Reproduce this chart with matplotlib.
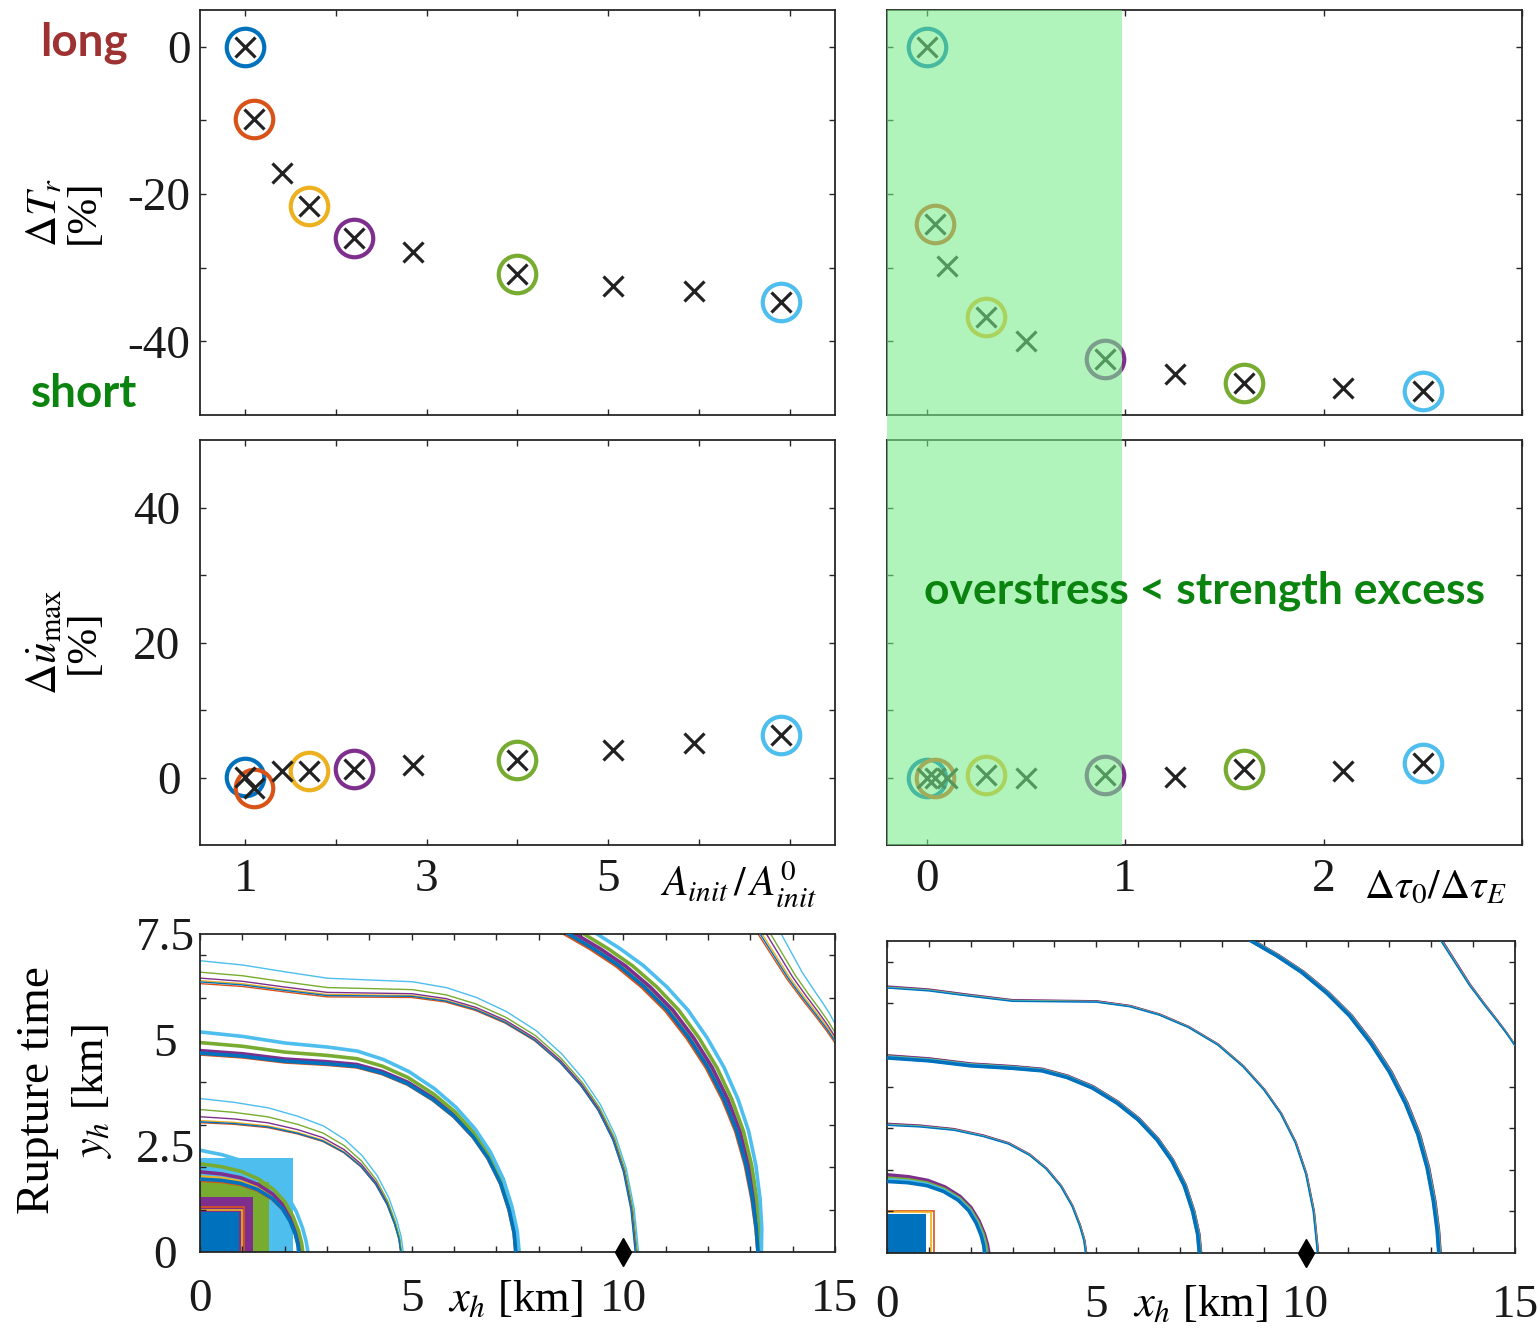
"""Rupture time sensitivity: A_init and overstress sweeps"""
import numpy as np
import matplotlib
matplotlib.use("Agg")
import matplotlib.pyplot as plt
from matplotlib.patches import Rectangle
from matplotlib import transforms

plt.rcParams['font.family'] = ['Liberation Serif', 'DejaVu Serif']
plt.rcParams['mathtext.fontset'] = 'stix'

# matlab default line colours: blue, orange, yellow, purple, green, cyan
run_colors = ['#0072BD', '#D95319', '#EDB120', '#7E2F8E', '#77AC30', '#4DBEEE']

# ---- scatter data (left: A_init / A_init^0, right: dtau0 / dtauE)
a_ratio = [1.0, 1.1, 1.4, 1.7, 2.2, 2.85, 4.0, 5.05, 5.95, 6.9]
dTr_a = [0, -9.8, -17.2, -21.6, -25.9, -27.8, -30.8, -32.5, -33.2, -34.7]
dudot_a = [0.1, -1.5, 1.0, 1.0, 1.2, 1.8, 2.6, 4.1, 5.1, 6.3]
circled_a = [0, 1, 3, 4, 6, 9]

tau_ratio = [0, 0.04, 0.1, 0.3, 0.5, 0.9, 1.25, 1.6, 2.1, 2.5]
dTr_t = [0, -24.0, -29.7, -36.7, -39.9, -42.4, -44.4, -45.6, -46.4, -46.8]
dudot_t = [0, 0, 0, 0.4, 0, 0.4, 0.1, 1.2, 0.9, 2.2]
circled_t = [0, 1, 3, 5, 7, 9]

shade_end = 0.985

# ---- rupture front contours of the reference run (km), one per level
front_x = [
    [0, 0.5, 0.95, 1.35, 1.7, 1.95, 2.13, 2.25, 2.31, 2.33],
    [0, 0.8, 1.6, 2.3, 2.9, 3.4, 3.8, 4.15, 4.42, 4.6, 4.7, 4.74],
    [0, 1.0, 2.0, 3.0, 3.7, 4.3, 4.9, 5.5, 6.0, 6.45, 6.8, 7.1, 7.3, 7.42, 7.46],
    [0, 1.0, 2.0, 3.0, 4.0, 5.0, 5.8, 6.5, 7.2, 7.9, 8.5, 9.0, 9.4, 9.75,
     10.0, 10.18, 10.28],
    [8.7, 9.3, 9.9, 10.5, 11.05, 11.55, 12.0, 12.38, 12.68, 12.9, 13.05,
     13.14, 13.18],
    [13.23, 13.55, 13.9, 14.25, 14.55, 14.8, 15.0],
]
front_y = [
    [1.72, 1.69, 1.62, 1.48, 1.27, 1.02, 0.72, 0.42, 0.18, 0],
    [3.07, 3.03, 2.95, 2.8, 2.62, 2.35, 2.02, 1.6, 1.12, 0.65, 0.3, 0],
    [4.69, 4.62, 4.5, 4.44, 4.38, 4.22, 3.97, 3.6, 3.2, 2.72, 2.22, 1.62, 1.0,
     0.45, 0],
    [6.37, 6.3, 6.17, 6.05, 6.04, 6.03, 5.92, 5.72, 5.42, 5.0, 4.48, 3.92,
     3.35, 2.65, 1.9, 1.0, 0],
    [7.5, 7.15, 6.75, 6.25, 5.7, 5.05, 4.35, 3.6, 2.85, 2.05, 1.25, 0.55, 0],
    [7.5, 7.0, 6.45, 5.98, 5.6, 5.27, 4.98],
]
front_kind = ['quarter', 'quarter', 'quarter', 'quarter', 'top', 'corner']
front_thick = [True, False, True, False, True, False]

# shift of each run's front vs the reference, at start and end of the front
left_start = [
    [0, -0.03, 0.05, 0.17, 0.36, 0.68],
    [0, -0.02, 0.03, 0.12, 0.29, 0.55],
    [0, -0.02, 0.02, 0.06, 0.25, 0.5],
    [0, -0.04, 0.03, 0.09, 0.23, 0.5],
    [0, -0.08, 0.07, 0.17, 0.37, 0.68],
    [0, -0.05, 0.05, 0.15, 0.25, 0.5],
]
left_end = [
    [0, 0.02, 0.04, 0.05, 0.1, 0.22],
    [0, 0, 0.01, 0.01, 0.02, 0.06],
    [0, 0, 0.01, 0.02, 0.04, 0.08],
    [0, 0.01, 0.02, 0.03, 0.05, 0.08],
    [0, 0, 0.02, 0.03, 0.05, 0.08],
    [0, -0.05, 0.05, 0.1, 0.2, 0.4],
]
right_start = [0, 0.06, 0.03, 0.08, 0.04, 0.02]
right_end = [0, 0.04, 0.02, 0.05, 0.03, 0.01]

# nucleation patch sizes (km): width, height
left_patch_w = [0.93, 1.05, 1.0, 1.26, 1.64, 2.19]
left_patch_h = [0.95, 1.05, 1.0, 1.3, 1.66, 2.22]
right_patch_w = [0.93, 1.12, 1.05]
right_patch_h = [0.93, 1.0, 0.98]

W, H = 1540, 1330
fig = plt.figure(figsize=(W / 100, H / 100), dpi=100)


def rect(x0, y0, x1, y1):
    return [x0 / W, 1 - y1 / H, (x1 - x0) / W, (y1 - y0) / H]


def style(ax):
    for sp in ax.spines.values():
        sp.set_color('#262626')
        sp.set_linewidth(1.3)
    ax.tick_params(which='both', direction='in', top=True, right=True,
                   length=4, width=1, color='#262626', labelsize=34,
                   labelcolor='#1a1a1a')


ax_tl = fig.add_axes(rect(200, 10, 835, 415))
ax_tr = fig.add_axes(rect(887, 10, 1522, 415))
ax_ml = fig.add_axes(rect(200, 440, 835, 845))
ax_mr = fig.add_axes(rect(887, 440, 1522, 845))
ax_bl = fig.add_axes(rect(200, 934, 835, 1252))
ax_br = fig.add_axes(rect(887, 941, 1515, 1253))


def scatter(ax, xs, ys, circled):
    for k, i in enumerate(circled):
        ax.plot(xs[i], ys[i], 'o', mfc='none', mec=run_colors[k], ms=27,
                mew=3, clip_on=False, zorder=3)
    ax.plot(xs, ys, 'x', color='#222222', ms=15, mew=2.3, clip_on=False,
            zorder=4)


scatter(ax_tl, a_ratio, dTr_a, circled_a)
scatter(ax_ml, a_ratio, dudot_a, circled_a)
scatter(ax_tr, tau_ratio, dTr_t, circled_t)
scatter(ax_mr, tau_ratio, dudot_t, circled_t)

for ax in [ax_tl, ax_ml]:
    style(ax)
    ax.set_xlim(0.5, 7.5)
    ax.set_xticks(range(1, 8))
for ax in [ax_tr, ax_mr]:
    style(ax)
    ax.set_xlim(-0.2, 3.0)
    ax.set_xticks([0, 1, 2, 3])
for ax in [ax_tl, ax_tr]:
    ax.set_ylim(-50, 5)
    ax.set_yticks([-40, -30, -20, -10, 0])
    ax.set_xticklabels([])
for ax in [ax_ml, ax_mr]:
    ax.set_ylim(-10, 50)
    ax.set_yticks([0, 10, 20, 30, 40])
    ax.tick_params(axis='x', pad=10)
ax_tl.set_yticklabels(['-40', '', '-20', '', '0'])
ax_ml.set_yticklabels(['0', '', '20', '', '40'])
ax_ml.set_xticklabels(['1', '', '3', '', '5', '', ''])
ax_mr.set_xticklabels(['0', '1', '2', ''])
ax_tr.set_yticklabels([])
ax_mr.set_yticklabels([])
ax_tl.tick_params(axis='y', pad=7)
ax_ml.tick_params(axis='y', pad=14)


# ---- rupture front maps
def shifted(xs, ys, kind, s, e):
    xs = np.array(xs, float)
    ys = np.array(ys, float)
    t = np.linspace(0, 1, len(xs))
    if kind == 'quarter':
        return xs + t * e, ys + (1 - t) * s
    if kind == 'top':
        return xs + (1 - t) * s + t * e, ys
    return xs + (1 - t) * s, ys + t * e


def draw_fronts(ax, starts, ends):
    order = [1, 2, 3, 4, 5, 0]   # reference run (blue) on top
    for lev in range(len(front_x)):
        lw = 2.6 if front_thick[lev] else 1.0
        for r in order:
            s, e = starts(lev, r), ends(lev, r)
            xs, ys = shifted(front_x[lev], front_y[lev], front_kind[lev], s, e)
            ax.plot(xs, ys, color=run_colors[r], lw=lw, zorder=2 + (r == 0),
                    solid_joinstyle='round')


# left map: patches, cyan at the back
for r in [5, 4, 3]:
    ax_bl.add_patch(Rectangle((0, 0), left_patch_w[r], left_patch_h[r],
                              color=run_colors[r], lw=0, zorder=1))
for r in [1, 2]:
    ax_bl.add_patch(Rectangle((0, 0), left_patch_w[r], left_patch_h[r],
                              fill=False, ec=run_colors[r], lw=1.2, zorder=1))
ax_bl.add_patch(Rectangle((0, 0), left_patch_w[0], left_patch_h[0],
                          color=run_colors[0], lw=0, zorder=1))
draw_fronts(ax_bl, lambda l, r: left_start[l][r], lambda l, r: left_end[l][r])

# right map: runs almost identical
for k, r in enumerate([0, 1, 2]):
    if k == 0:
        continue
    ax_br.add_patch(Rectangle((0, 0), right_patch_w[k], right_patch_h[k],
                              fill=False, ec=run_colors[r], lw=1.2, zorder=1))
ax_br.add_patch(Rectangle((0, 0), right_patch_w[0], right_patch_h[0],
                          color=run_colors[0], lw=0, zorder=1))
draw_fronts(ax_br, lambda l, r: right_start[r] * (2 if l == 0 else 0.6),
            lambda l, r: right_end[r] * (2 if l == 0 else 0.6))

for ax in [ax_bl, ax_br]:
    style(ax)
    ax.set_xlim(0, 15)
    ax.set_ylim(0, 7.5)
    ax.set_xticks([0, 5, 10, 15])
    ax.set_xticks(range(1, 15), minor=True)
    ax.set_yticks([0, 2.5, 5, 7.5])
    ax.set_yticks(range(1, 8), minor=True)
    ax.tick_params(axis='y', which='major', length=0, pad=25)
    ax.tick_params(axis='x', pad=19)
    ax.plot(10, 0, 'd', color='k', ms=14, clip_on=False, zorder=6)
ax_bl.set_xticklabels(['0', '5', '10', '15'])
ax_bl.set_yticklabels(['0', '2.5', '5', '7.5'])
for lab in ax_bl.get_yticklabels():
    lab.set_horizontalalignment('center')
ax_br.set_xticklabels(['0', '5', '10', '15'])
ax_br.set_yticklabels([])
ax_br.tick_params(axis='x', pad=23)

# ---- green band over both right scatter panels (and the gap between)
band = transforms.blended_transform_factory(ax_tr.transData, fig.transFigure)
fig.add_artist(Rectangle((-0.2, 1 - 845 / H), shade_end + 0.2, 835 / H,
                         transform=band, color='#79ED8A', alpha=0.58, lw=0,
                         zorder=10))


# ---- labels
def ftext(px, py, s, **kw):
    fig.text(px / W, 1 - py / H, s, ha='center', va='center', **kw)


ftext(64, 212, '$\\Delta T_r$\n[%]', rotation=90, fontsize=31, linespacing=0.95)
ftext(64, 642, '$\\Delta\\dot{u}_{\\mathrm{max}}$\n[%]', rotation=90,
      fontsize=31, linespacing=0.95)
ftext(738, 885, '$A_{init}\\,/\\,A^{0}_{init}$', fontsize=30)
ftext(1435, 888, '$\\Delta\\tau_0/\\Delta\\tau_E$', fontsize=30)
ftext(38, 1090, 'Rupture time', rotation=90, fontsize=34)
ftext(92, 1092, '$y_h$ [km]', rotation=90, fontsize=32)
ftext(515, 1300, '$x_h$ [km]', fontsize=32)
ftext(1200, 1305, '$x_h$ [km]', fontsize=32)

ftext(84, 43, 'long', fontsize=33, family='Lato', weight='bold', color='#9E3232')
ftext(84, 394, 'short', fontsize=33, family='Lato', weight='bold', color='#0A840F')
ftext(1205, 591, 'overstress < strength excess', fontsize=32, family='Lato',
      weight='bold', color='#0A840F', zorder=11)

fig.savefig('out.png', dpi=100)
